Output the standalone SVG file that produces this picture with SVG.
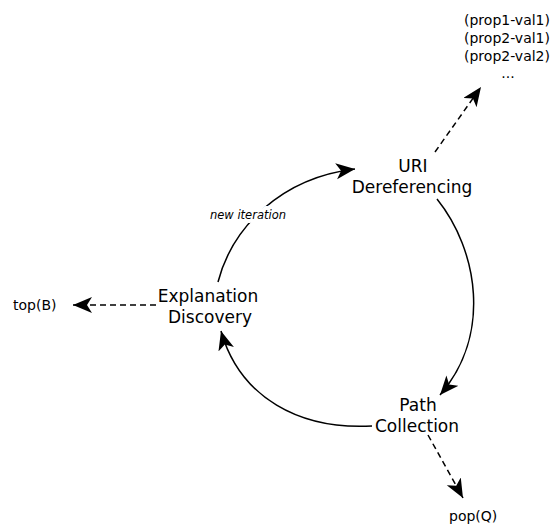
<svg xmlns="http://www.w3.org/2000/svg" width="558" height="528" viewBox="0 0 558 528">
  <style>
    .node { font-family: "DejaVu Sans", "Liberation Sans", sans-serif; font-size: 17px; fill: #000; text-anchor: middle; }
    .out { font-family: "DejaVu Sans", "Liberation Sans", sans-serif; font-size: 14px; fill: #000; }
    .lbl { font-family: "DejaVu Sans", "Liberation Sans", sans-serif; font-size: 11.5px; font-style: italic; fill: #000; text-anchor: middle; stroke: #fff; stroke-width: 8; paint-order: stroke; stroke-linejoin: round; }
    .edge { fill: none; stroke: #000; stroke-width: 1.5; }
    .dash { stroke-dasharray: 6 4; }
  </style>
  <defs>
    <!-- filled arrowhead with a notched back -->
    <marker id="head" markerUnits="userSpaceOnUse" markerWidth="22" markerHeight="18" refX="19" refY="8" orient="auto">
      <path d="M0,0 L19,8 L0,16 L5,8 Z" fill="#000"/>
    </marker>
  </defs>

  <!-- cycle connectors and outputs -->
  <g id="connectors">
    <path class="edge" d="M218,282 C232,228 280,178 355,169" marker-end="url(#head)"/>
    <path class="edge" d="M437,199 C478,250 492,335 440,395" marker-end="url(#head)"/>
    <path class="edge" d="M372,426 C300,430 240,398 221,331" marker-end="url(#head)"/>
    <path class="edge dash" d="M435,152 L481,87" marker-end="url(#head)"/>
    <path class="edge dash" d="M156,305 L73,305" marker-end="url(#head)"/>
    <path class="edge dash" d="M428,435 L463,498" marker-end="url(#head)"/>
    <text class="lbl" x="248" y="219">new iteration</text>
  </g>

  <g id="uri-dereferencing">
    <text class="node" x="413" y="172">URI</text>
    <text class="node" x="412" y="193">Dereferencing</text>
  </g>

  <g id="path-collection">
    <text class="node" x="418" y="411">Path</text>
    <text class="node" x="417" y="432">Collection</text>
  </g>

  <g id="explanation-discovery">
    <text class="node" x="208" y="302">Explanation</text>
    <text class="node" x="210" y="323">Discovery</text>
  </g>

  <g id="values">
    <text class="out" text-anchor="middle" x="507" y="25">(prop1-val1)</text>
    <text class="out" text-anchor="middle" x="507" y="43">(prop2-val1)</text>
    <text class="out" text-anchor="middle" x="507" y="61">(prop2-val2)</text>
    <text class="out" text-anchor="middle" x="508" y="78">...</text>
  </g>

  <g id="top-b">
    <text class="out" x="13" y="310">top(B)</text>
  </g>

  <g id="pop-q">
    <text class="out" x="449" y="521">pop(Q)</text>
  </g>
</svg>
